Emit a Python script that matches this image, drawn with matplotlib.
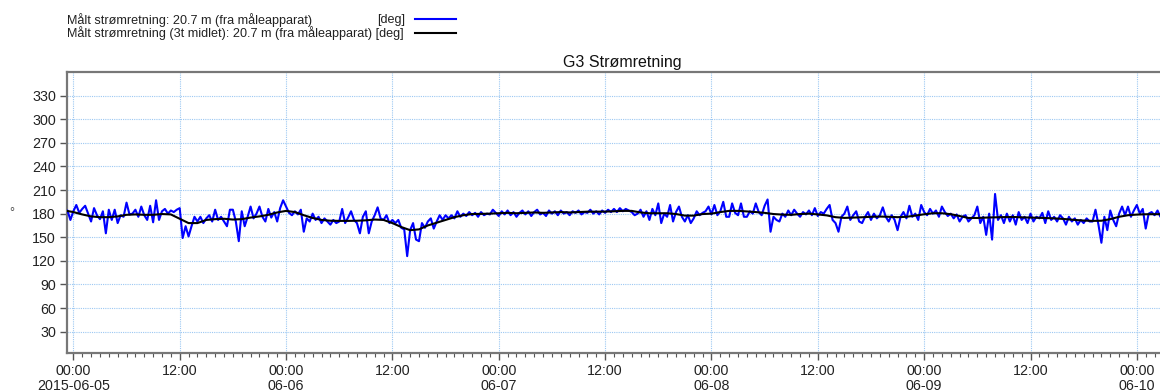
import pandas as pd
import matplotlib
matplotlib.use("Agg")
import matplotlib.pyplot as plt
import matplotlib.dates as mdates
from matplotlib.lines import Line2D

plt.rcParams['font.family'] = ['Liberation Sans', 'DejaVu Sans']

# ---- chart text ----
title = "G3 Strømretning"
raw_label = "Målt strømretning: 20.7 m (fra måleapparat)"
avg_label = "Målt strømretning (3t midlet): 20.7 m (fra måleapparat)"
unit = "[deg]"
y_label = "°"

# ---- measured current direction, 20-minute samples from 2015-06-04 23:00 ----
raw_start = "2015-06-04 23:00"
raw_deg = [
    183, 184, 172,  183, 191, 181,  186, 190, 180,  170, 187, 178,
    173, 183, 155,  185, 172, 185,  168, 178, 176,  194, 179, 180,
    185, 176, 189,  178, 172, 190,  169, 197, 172,  183, 186, 180,
    184, 182, 185,  187, 149, 164,  151, 164, 176,  170, 176, 168,
    174, 178, 170,  185, 172, 176,  170, 164, 185,  185, 170, 145,
    183, 164, 176,  189, 174, 180,  189, 176, 170,  186, 175, 182,
    170, 187, 197,  189, 181, 178,  183, 179, 185,  157, 174, 170,
    180, 172, 176,  168, 174, 170,  166, 172, 168,  170, 186, 168,
    175, 183, 172,  168, 155, 176,  183, 155, 170,  178, 188, 174,
    172, 178, 168,  172, 168, 172,  162, 160, 126,  159, 168, 147,
    145, 168, 162,  170, 174, 161,  170, 178, 172,  178, 174, 178,
    174, 183, 176,  180, 177, 182,  178, 181, 176,  182, 178, 180,
    179, 185, 181,  177, 183, 179,  184, 178, 182,  176, 181, 184,
    179, 183, 177,  182, 185, 179,  181, 177, 184,  180, 183, 178,
    184, 180, 182,  178, 183, 181,  184, 179, 182,  181, 185, 180,
    183, 179, 184,  181, 185, 182,  186, 182, 187,  183, 186, 184,
    182, 178, 180,  185, 176, 183,  172, 186, 178,  193, 168, 180,
    176, 191, 170,  182, 189, 176,  170, 178, 168,  174, 183, 178,
    181, 183, 189,  179, 191, 178,  183, 195, 176,  176, 193, 181,
    178, 193, 176,  176, 183, 180,  193, 182, 178,  190, 198, 157,
    176, 172, 170,  180, 176, 184,  178, 185, 180,  176, 182, 179,
    184, 178, 187,  177, 182, 180,  186, 191, 172,  168, 157, 176,
    180, 189, 172,  178, 183, 170,  168, 176, 182,  172, 180, 174,
    178, 188, 176,  170, 178, 172,  159, 176, 182,  174, 190, 176,
    180, 172, 191,  182, 178, 186,  180, 184, 176,  189, 182, 177,
    180, 174, 179,  170, 176, 178,  170, 174, 178,  189, 168, 176,
    153, 180, 147,  205, 172, 178,  168, 180, 170,  178, 166, 182,
    172, 176, 168,  180, 170, 176,  174, 181, 168,  183, 172, 176,
    170, 178, 174,  166, 176, 170,  174, 166, 172,  168, 174, 170,
    170, 185, 166,  143, 176, 159,  184, 172, 164,  180, 189, 178,
    189, 176, 184,  191, 180, 186,  161, 180, 182,  178, 184, 176,
    180, 177, 182,
]

# ---- 3-hour mean, hourly values from 2015-06-04 23:00 ----
avg_start = "2015-06-04 23:00"
avg_deg = [
    184.0,
    182.0, 179.0, 176.5, 175.5, 175.5, 176.5, 178.5, 179.0, 178.5, 178.5, 179.5, 179.0,
    173.5, 168.0, 168.0, 172.0, 173.0, 173.5, 172.5, 173.0, 175.0, 176.5, 178.5, 181.5,
    183.5, 182.0, 178.0, 174.5, 172.0, 171.0, 170.8, 170.8, 171.0, 171.5, 172.5, 172.0,
    168.0, 163.0, 159.0, 160.0, 165.0, 168.5, 172.0, 175.5, 178.0, 179.5, 179.7, 180.0,
    180.5, 181.0, 180.5, 181.0, 181.5, 181.0, 181.5, 182.0, 181.5, 182.0, 182.5, 182.5,
    182.6, 183.0, 183.5, 183.5, 181.5, 180.5, 180.5, 180.5, 179.5, 177.5, 177.5, 179.5,
    180.0, 182.0, 183.5, 183.5, 182.8, 182.0, 181.0, 179.5, 178.8, 178.5, 179.5, 180.0,
    179.0, 177.8, 175.5, 174.6, 175.0, 175.4, 176.0, 176.3, 176.0, 175.5, 176.0, 177.5,
    179.2, 180.5, 180.5, 179.3, 177.0, 174.5, 174.5, 175.0, 175.3, 175.6, 175.8, 175.3,
    175.0, 174.7, 174.3, 173.8, 173.0, 172.0, 171.2, 170.8, 171.0, 173.0, 176.0, 178.0,
    178.8, 179.2, 179.3, 179.2,
]

y_ticks = [30, 60, 90, 120, 150, 180, 210, 240, 270, 300, 330]
first_day = "2015-06-05"
last_day = "2015-06-10"

raw_time = pd.date_range(raw_start, periods=len(raw_deg), freq="20min")
avg_time = pd.date_range(avg_start, periods=len(avg_deg), freq="1h")

W, H = 1160, 392
fig = plt.figure(figsize=(W / 100, H / 100), dpi=100)
ax = fig.add_axes([67 / W, 39 / H, 1093 / W, 281 / H])

ax.plot(raw_time, raw_deg, color="#0000ff", lw=1.5, zorder=3)
ax.plot(avg_time, avg_deg, color="black", lw=1.5, zorder=4)

# x range: a little before midnight on the first day, running off the right edge
t0 = pd.Timestamp(first_day)
x_left = t0 - pd.Timedelta(minutes=43)
x_right = x_left + pd.Timedelta(days=1093 / 212.7)
ax.set_xlim(x_left, x_right)
ax.set_ylim(2.9, 360)

# major ticks every 12 h with two-line labels at midnight
major = pd.date_range(first_day, last_day, freq="12h")
labels = []
for i, t in enumerate(major):
    if t.hour == 0:
        day = t.strftime("%Y-%m-%d") if i == 0 else t.strftime("%m-%d")
        labels.append(t.strftime("%H:%M") + "\n" + day)
    else:
        labels.append(t.strftime("%H:%M"))
ax.set_xticks(mdates.date2num(major))
ax.set_xticklabels(labels, linespacing=1.05)
ax.xaxis.set_minor_locator(mdates.HourLocator())
ax.set_yticks(y_ticks)

ax.tick_params(axis="both", which="major", labelsize=10.3, colors="#555555",
               labelcolor="#222222", direction="out", length=5, width=1)
ax.tick_params(axis="x", which="minor", colors="#555555", direction="out",
               length=3, width=0.8)
ax.tick_params(axis="x", pad=3)
ax.tick_params(axis="y", pad=3)

ax.grid(True, which="major", color="#9cc8f2", ls=(0, (1, 1)), lw=0.8)

for side in ("left", "bottom", "top"):
    ax.spines[side].set_color("#777777")
    ax.spines[side].set_linewidth(1.6)
ax.spines["right"].set_visible(False)

fig.text(622 / W, 1 - 62 / H, title, ha="center", va="center", fontsize=11.5,
         color="#111111")
fig.text(12 / W, 1 - 213 / H, y_label, ha="center", va="center", fontsize=9,
         color="#444444")

# legend block in the upper-left corner
fig.text(67 / W, 1 - 20 / H, raw_label, ha="left", va="center", fontsize=9.1,
         color="#222222")
fig.text(377 / W, 1 - 20 / H, unit, ha="left", va="center", fontsize=9.1,
         color="#222222")
fig.text(67 / W, 1 - 33 / H, avg_label + " " + unit, ha="left", va="center",
         fontsize=9.1, color="#222222")
fig.add_artist(Line2D([415 / W, 456 / W], [1 - 19 / H, 1 - 19 / H],
                      color="#0000ff", lw=1.5, transform=fig.transFigure))
fig.add_artist(Line2D([415 / W, 456 / W], [1 - 33 / H, 1 - 33 / H],
                      color="black", lw=1.5, transform=fig.transFigure))

fig.savefig("out.png", dpi=100)
